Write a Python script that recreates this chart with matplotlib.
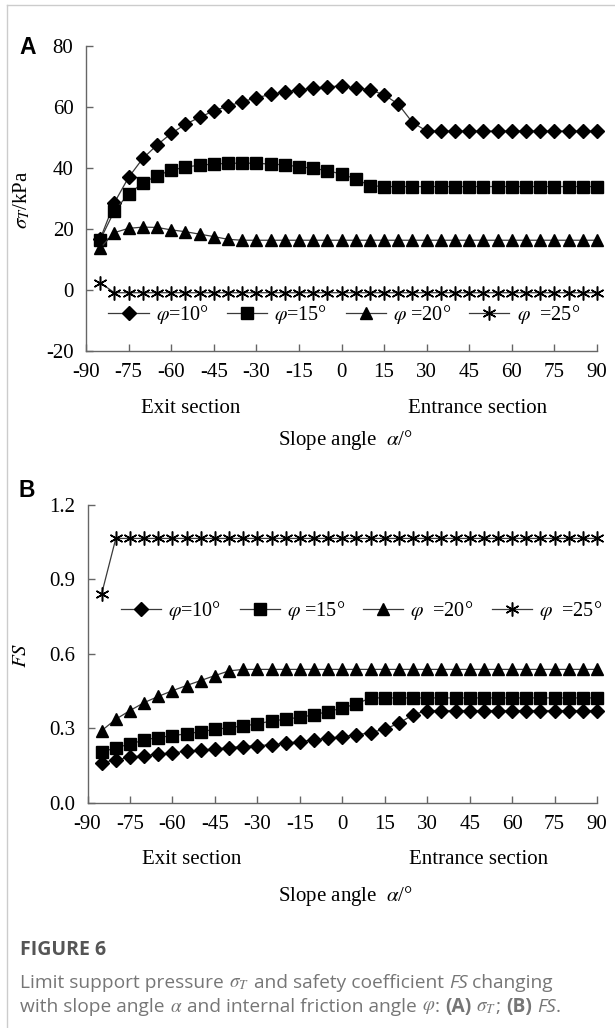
import matplotlib
matplotlib.use("Agg")
import matplotlib.pyplot as plt
from matplotlib.lines import Line2D

plt.rcParams['font.family'] = ['Liberation Serif', 'DejaVu Serif']
plt.rcParams['mathtext.fontset'] = 'stix'
plt.rcParams['axes.unicode_minus'] = False

# slope angle (deg)
alpha = [-85, -80, -75, -70, -65, -60, -55, -50, -45, -40, -35, -30,
         -25, -20, -15, -10, -5, 0, 5, 10, 15, 20, 25, 30,
         35, 40, 45, 50, 55, 60, 65, 70, 75, 80, 85, 90]

# (A) limit support pressure sigma_T, kPa
sig_10 = [16.6, 28.5, 36.8, 43.0, 47.4, 51.2, 54.2, 56.5, 58.6, 60.2, 61.6, 62.9,
          64.0, 64.8, 65.5, 66.0, 66.6, 66.7, 66.2, 65.5, 63.9, 60.8, 54.8, 52.0] + [52.0] * 12
sig_15 = [16.3, 25.8, 31.4, 34.9, 37.4, 39.1, 40.2, 40.8, 41.2, 41.4, 41.5, 41.4,
          41.2, 40.9, 40.3, 39.8, 39.0, 37.9, 36.3, 34.1] + [33.8] * 16
sig_20 = [13.6, 18.7, 20.1, 20.5, 20.4, 19.6, 19.0, 18.2, 17.4, 16.5] + [16.2] * 26
sig_25 = [2.3] + [-1.0] * 35

# (B) safety coefficient FS
fs_10 = [0.161, 0.172, 0.183, 0.189, 0.195, 0.201, 0.206, 0.212, 0.216, 0.222, 0.226, 0.230,
         0.233, 0.239, 0.246, 0.253, 0.259, 0.266, 0.273, 0.282, 0.296, 0.320, 0.354] + [0.371] * 13
fs_15 = [0.202, 0.222, 0.235, 0.253, 0.262, 0.270, 0.277, 0.286, 0.295, 0.302, 0.309, 0.317,
         0.329, 0.336, 0.344, 0.354, 0.367, 0.381, 0.398] + [0.422] * 17
fs_20 = [0.290, 0.336, 0.371, 0.403, 0.428, 0.451, 0.472, 0.492, 0.512, 0.531] + [0.537] * 26
fs_25 = [0.842] + [1.065] * 35

labels_a = [r'$\varphi$=10°', r'$\varphi$=15°', r'$\varphi$ =20°', r'$\varphi$  =25°']
labels_b = [r'$\varphi$=10°', r'$\varphi$ =15°', r'$\varphi$  =20°', r'$\varphi$  =25°']
xticks = [-90, -75, -60, -45, -30, -15, 0, 15, 30, 45, 60, 75, 90]

star = (6, 2, 0)
styles = [dict(marker='D', ms=7.5), dict(marker='s', ms=8.5),
          dict(marker='^', ms=8.5), dict(marker=star, ms=10, mew=1.1)]

fig = plt.figure(figsize=(6.15, 10.28), dpi=100)
axA = fig.add_axes([0.1398, 0.6589, 0.831, 0.2967])
axB = fig.add_axes([0.1423, 0.2193, 0.8285, 0.2895])

FS = 15


def panel(ax, series, labels, ylim, yticks, yfmt, leg_xy):
    for ys, st, lab in zip(series, styles, labels):
        ax.plot(alpha, ys, color='#3a3a3a', lw=0.9, mfc='black', mec='black',
                clip_on=False, label=lab, **st)
    ax.set_xlim(-90, 90)
    ax.set_ylim(*ylim)
    ax.set_xticks(xticks)
    ax.set_yticks(yticks)
    ax.set_yticklabels([yfmt.format(v) for v in yticks])
    for s in ['top', 'right']:
        ax.spines[s].set_visible(False)
    for s in ['left', 'bottom']:
        ax.spines[s].set_color('#666666')
        ax.spines[s].set_linewidth(1.0)
    ax.tick_params(direction='in', length=5, width=1, color='#666666',
                   labelsize=FS, pad=9)
    ax.legend(loc='center', bbox_to_anchor=leg_xy, ncol=4, frameon=False,
              fontsize=14.5, handlelength=2.0, handletextpad=0.35,
              columnspacing=0.9, borderaxespad=0, borderpad=0)
    ax.text(0.204, -0.19, 'Exit section', transform=ax.transAxes,
            ha='center', va='center', fontsize=FS)
    ax.text(0.767, -0.19, 'Entrance section', transform=ax.transAxes,
            ha='center', va='center', fontsize=FS)


panel(axA, [sig_10, sig_15, sig_20, sig_25], labels_a, (-20, 80),
      [-20, 0, 20, 40, 60, 80], '{:.0f}', (0.505, 0.118))
panel(axB, [fs_10, fs_15, fs_20, fs_25], labels_b, (0, 1.2),
      [0.0, 0.3, 0.6, 0.9, 1.2], '{:.1f}', (0.538, 0.645))

axA.text(0.507, -0.293, r'Slope angle  $\alpha$/°', transform=axA.transAxes,
         ha='center', va='center', fontsize=FS)
axB.text(0.507, -0.314, r'Slope angle  $\alpha$/°', transform=axB.transAxes,
         ha='center', va='center', fontsize=FS)

fig.text(22 / 615, 1 - 200 / 1028, r'$\sigma_T$/kPa', rotation=90,
         ha='center', va='center', fontsize=FS)
fig.text(22 / 615, 1 - 655 / 1028, r'$FS$', rotation=90,
         ha='center', va='center', fontsize=FS)

fig.text(19 / 615, 1 - 47 / 1028, 'A', family='Liberation Sans', weight='bold',
         fontsize=16.5, ha='left', va='center')
fig.text(19 / 615, 1 - 490 / 1028, 'B', family='Liberation Sans', weight='bold',
         fontsize=16.5, ha='left', va='center')

# light frame on the left and top
fig.add_artist(Line2D([7 / 615, 1], [1 - 5 / 1028, 1 - 5 / 1028], color='#cccccc', lw=1))
fig.add_artist(Line2D([7 / 615, 7 / 615], [0, 1 - 5 / 1028], color='#cccccc', lw=1))

# caption
cap = dict(family='Open Sans', fontsize=13.8, color='#767676', va='center')
fig.text(20 / 615, 1 - 950 / 1028, 'FIGURE 6', family='Open Sans', weight='bold',
         fontsize=14, color='#555555', va='center')

renderer = fig.canvas.get_renderer()


def text_row(x, y, pieces):
    for s, extra in pieces:
        kw = dict(cap)
        kw.update(extra)
        t = fig.text(x, y, s, **kw)
        bb = t.get_window_extent(renderer=renderer)
        x += bb.width / fig.bbox.width


sp = dict()
it = dict(fontstyle='italic')
bd = dict(weight='bold')
text_row(20 / 615, 1 - 983 / 1028, [
    ('Limit support pressure\u00a0', sp), (r'$\sigma_T$', sp),
    ('\u00a0and safety coefficient\u00a0', sp), ('FS', it), ('\u00a0changing', sp)])
text_row(20 / 615, 1 - 1007 / 1028, [
    ('with slope angle\u00a0', sp), (r'$\alpha$', sp),
    ('\u00a0and internal friction angle\u00a0', sp), (r'$\varphi$', sp), (':\u00a0', sp),
    ('(A)', bd), ('\u00a0', sp), (r'$\sigma_T$', sp), (';\u00a0', sp),
    ('(B)', bd), ('\u00a0', sp), ('FS', it), ('.', sp)])

fig.savefig('out.png', dpi=100, facecolor='white')
